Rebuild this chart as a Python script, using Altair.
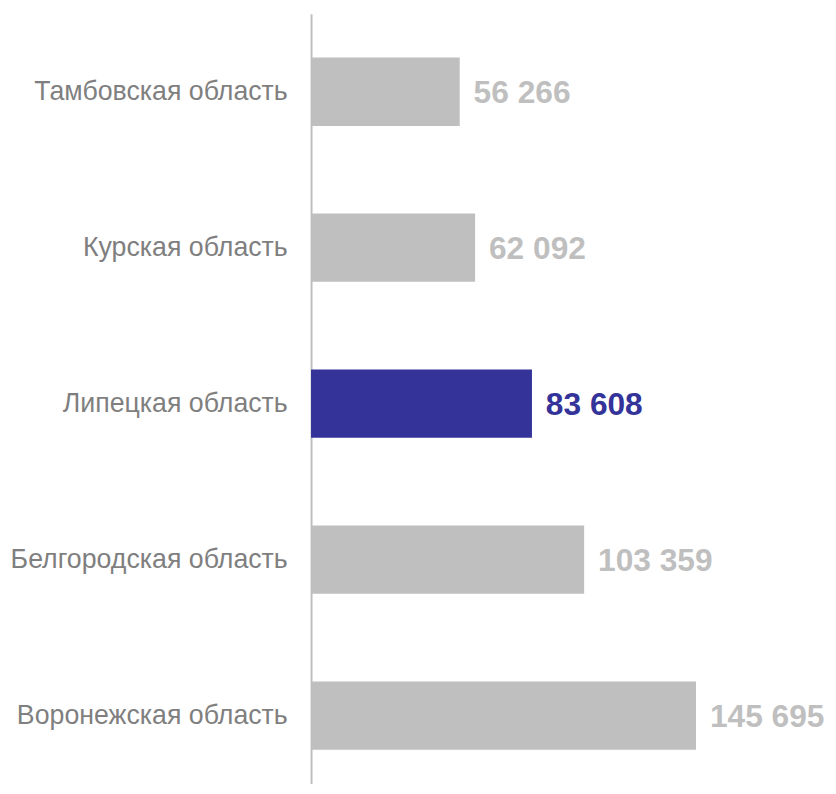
import altair as alt
import pandas as pd

regions = [
    "Тамбовская область",
    "Курская область",
    "Липецкая область",
    "Белгородская область",
    "Воронежская область",
]
values = [56266, 62092, 83608, 103359, 145695]
labels = ["56 266", "62 092", "83 608", "103 359", "145 695"]
highlight = [False, False, True, False, False]

df = pd.DataFrame({
    "region": regions,
    "value": values,
    "label": labels,
    "hl": ["yes" if h else "no" for h in highlight],
})

color_scale = alt.Scale(domain=["no", "yes"], range=["#BFBFBF", "#333399"])

y_enc = alt.Y(
    "region:N",
    sort=regions,
    scale=alt.Scale(range=[0, 787.5], paddingInner=0.562, paddingOuter=0.281),
    axis=alt.Axis(
        title=None,
        ticks=False,
        domain=True,
        domainColor="#BFBFBF",
        domainWidth=2,
        labelFont="Liberation Sans",
        labelFontSize=27,
        labelColor="#7F7F7F",
        labelPadding=24,
        labelLimit=400,
        grid=False,
    ),
)
x_enc = alt.X("value:Q", scale=alt.Scale(domain=[0, 187400]), axis=None)

bars = alt.Chart(df).mark_bar().encode(
    x=x_enc,
    y=y_enc,
    color=alt.Color("hl:N", scale=color_scale, legend=None),
)

text = alt.Chart(df).mark_text(
    align="left",
    baseline="middle",
    dx=14,
    dy=1,
    font="Liberation Sans",
    fontSize=32,
    fontWeight="bold",
).encode(
    x=x_enc,
    y=alt.Y("region:N", sort=regions),
    text="label:N",
    color=alt.Color("hl:N", scale=color_scale, legend=None),
)

chart = alt.layer(bars, text).properties(
    width=500,
    height=774,
    autosize=alt.AutoSizeParams(type="none"),
    padding={"left": 306, "top": 2, "right": 22, "bottom": 0},
).configure_view(stroke=None)

chart.save("out.html", embed_options={"renderer": "svg", "actions": False})
